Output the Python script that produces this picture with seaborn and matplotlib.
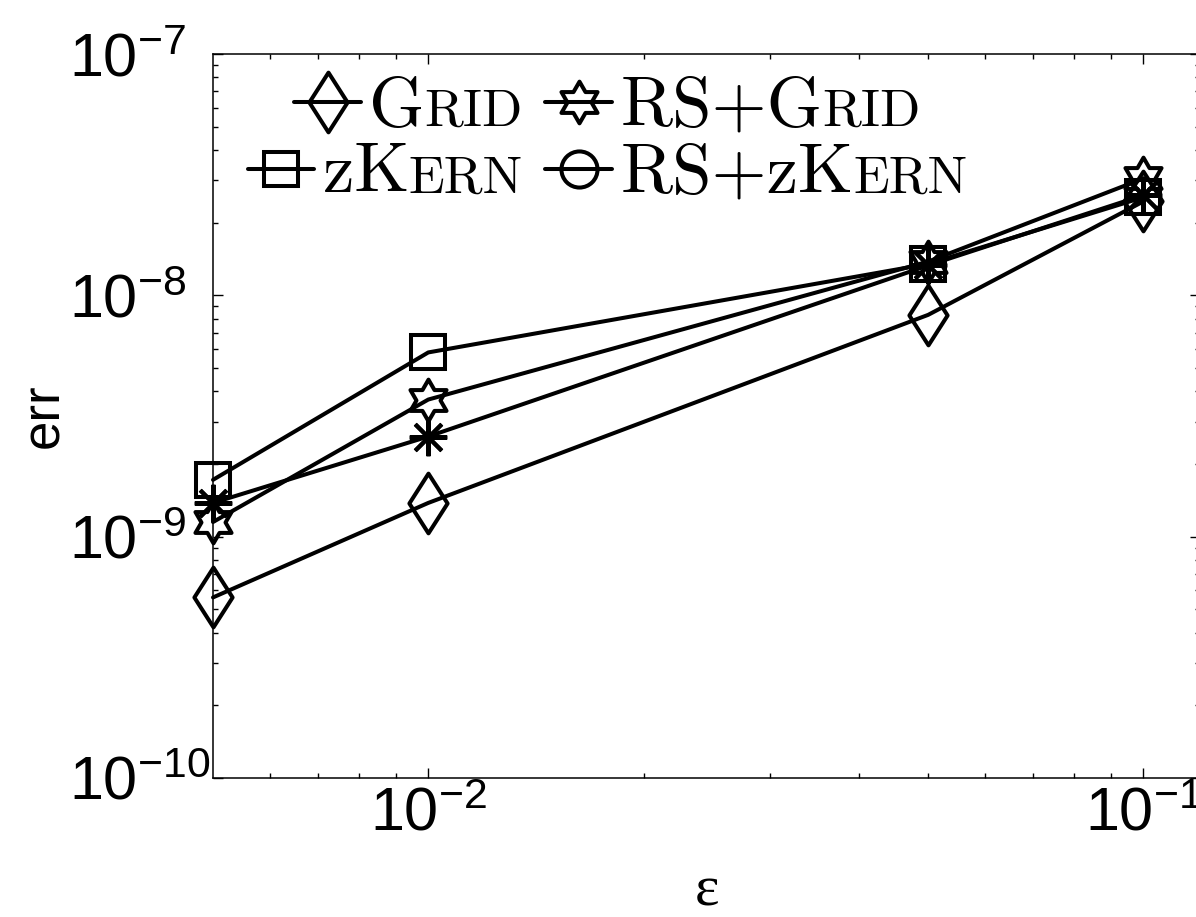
import numpy as np
import pandas as pd
import seaborn as sns
import matplotlib.pyplot as plt
from matplotlib.path import Path
from matplotlib.lines import Line2D
from matplotlib.ticker import NullFormatter, FixedLocator
from matplotlib.offsetbox import AnchoredOffsetbox, HPacker, VPacker, TextArea, DrawingArea

# values
eps = [0.005, 0.01, 0.05, 0.1]
err_grid = [5.6e-10, 1.38e-9, 8.3e-9, 2.45e-8]
err_rs_grid = [1.15e-9, 3.7e-9, 1.38e-8, 3.05e-8]
err_zkern = [1.72e-9, 5.8e-9, 1.35e-8, 2.55e-8]
err_rs_zkern = [1.38e-9, 2.6e-9, 1.33e-8, 2.6e-8]

sns.set_theme(style="ticks", rc={"axes.edgecolor": "black", "xtick.color": "black",
                                 "ytick.color": "black", "text.color": "black",
                                 "axes.labelcolor": "black"})
plt.rcParams["font.family"] = ["Liberation Sans", "DejaVu Sans"]
plt.rcParams["mathtext.fontset"] = "custom"
plt.rcParams["mathtext.rm"] = "Liberation Sans"
plt.rcParams["mathtext.it"] = "Liberation Sans:italic"
plt.rcParams["mathtext.bf"] = "Liberation Sans:bold"

# matlab-like markers: tall diamond and hexagram
diamond = Path([(0, 1), (0.64, 0), (0, -1), (-0.64, 0), (0, 1)], closed=True)
k = np.arange(12)
ang = np.deg2rad(90 + 30 * k)
rad = np.where(k % 2 == 0, 1.0, 1 / np.sqrt(3))
hexa_verts = np.column_stack([rad * np.cos(ang), rad * np.sin(ang)])
hexagram = Path(np.vstack([hexa_verts, hexa_verts[:1]]), closed=True)
asterisk = (8, 2, 0)

LW = 2.9
series = [
    (err_grid, diamond, 43),
    (err_rs_grid, hexagram, 30),
    (err_zkern, "s", 24),
    (err_rs_zkern, asterisk, 27),
]

fig, ax = plt.subplots(figsize=(11.96, 9.17), dpi=100)
ax.set_position([0.1781, 0.1516, 0.8253, 0.7895])

for vals, mk, ms in series:
    sns.lineplot(x=eps, y=vals, ax=ax, color="black", linewidth=LW,
                 marker=mk, markersize=ms, markerfacecolor="none",
                 markeredgecolor="black", markeredgewidth=LW, clip_on=False)

ax.set_xscale("log")
ax.set_yscale("log")
ax.set_xlim(0.005, 0.12)
ax.set_ylim(1e-10, 1e-7)
ax.xaxis.set_minor_locator(FixedLocator([0.006, 0.007, 0.008, 0.009, 0.02, 0.03, 0.04,
                                         0.05, 0.06, 0.07, 0.08, 0.09]))
ax.xaxis.set_minor_formatter(NullFormatter())
ax.yaxis.set_minor_formatter(NullFormatter())

for s in ax.spines.values():
    s.set_linewidth(1.1)
ax.tick_params(which="both", direction="in", top=True, right=True, width=1.0)
ax.tick_params(which="major", length=7.5, labelsize=44, pad=6)
# matlab puts the y labels flush left
ax.tick_params(axis="y", which="major", pad=104)
plt.setp(ax.get_yticklabels(), ha="left")
ax.tick_params(which="minor", length=3.5)

ax.set_xlabel("ε", fontsize=42, family=["Liberation Serif", "DejaVu Serif"], labelpad=16)
ax.set_ylabel("err", fontsize=38)
ax.yaxis.set_label_coords(-0.146, 0.5)

# legend with small caps, drawn from packed boxes
BIG = 51
SMALL = 38


def handle(mk, ms):
    da = DrawingArea(48, 48, 0, 7)
    da.add_artist(Line2D([0, 48], [17, 17], color="black", linewidth=LW))
    da.add_artist(Line2D([24], [17], marker=mk, markersize=ms, markerfacecolor="none",
                         markeredgecolor="black", markeredgewidth=LW, linestyle="none"))
    return da


def label(big, small):
    parts = [TextArea(big, textprops=dict(fontsize=BIG, family="cmr10")),
             TextArea(small, textprops=dict(fontsize=SMALL, family="cmr10"))]
    return HPacker(children=parts, align="baseline", pad=0, sep=0)


def row(mk, ms, big, small):
    return HPacker(children=[handle(mk, ms), label(big, small)], align="baseline", pad=0, sep=6)


col1 = VPacker(children=[row(diamond, 43, "G", "RID"), row("s", 24, "zK", "ERN")],
               align="right", pad=0, sep=-3)
col2 = VPacker(children=[row(hexagram, 30, "RS+G", "RID"), row("o", 26, "RS+zK", "ERN")],
               align="left", pad=0, sep=-3)
leg_box = HPacker(children=[col1, col2], align="top", pad=0, sep=16)
anchored = AnchoredOffsetbox(loc="upper left", child=leg_box, pad=0, borderpad=0,
                             frameon=False, bbox_to_anchor=(0.207, 0.925),
                             bbox_transform=fig.transFigure)
ax.add_artist(anchored)

plt.savefig("out.png", dpi=100)
plt.close()
